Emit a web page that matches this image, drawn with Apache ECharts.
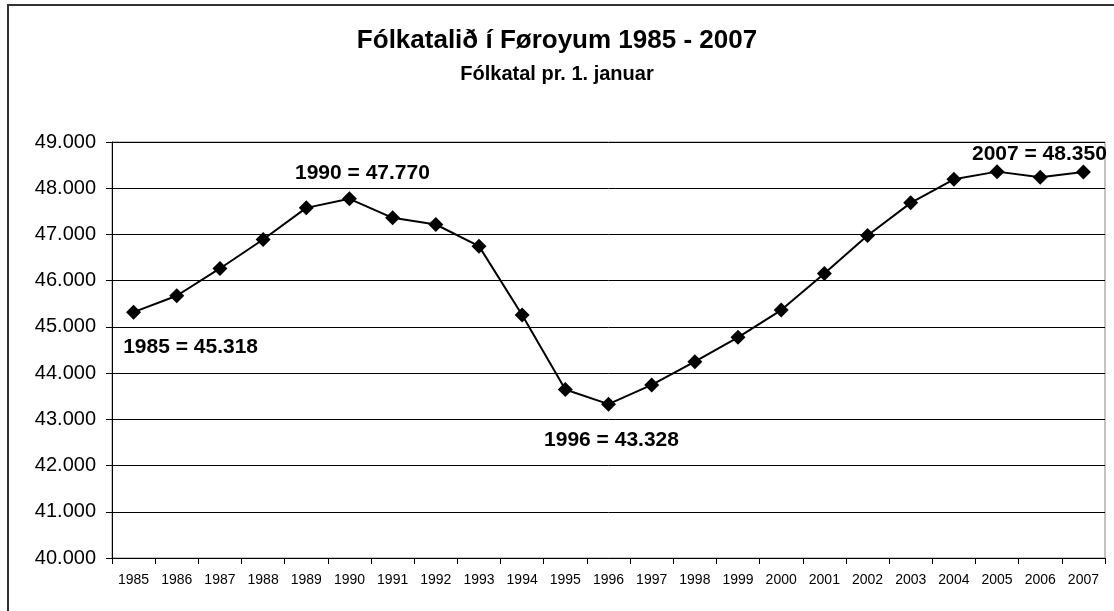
<!DOCTYPE html>
<html>
<head>
<meta charset="utf-8">
<title>Fólkatalið í Føroyum 1985 - 2007</title>
<script src="https://cdn.jsdelivr.net/npm/echarts@6/dist/echarts.min.js"></script>
<style>
  html, body { margin: 0; padding: 0; background: #fff; }
  #chart { width: 1114px; height: 611px; }
</style>
</head>
<body>
<div id="chart"></div>
<script>
// fólkatal pr. 1. januar
const years = ['1985', '1986', '1987', '1988', '1989', '1990', '1991', '1992',
  '1993', '1994', '1995', '1996', '1997', '1998', '1999', '2000', '2001',
  '2002', '2003', '2004', '2005', '2006', '2007']
const population = [45318, 45674, 46264, 46891, 47575, 47770, 47359, 47215,
  46747, 45256, 43644, 43328, 43744, 44248, 44774, 45364, 46156,
  46977, 47683, 48194, 48359, 48237, 48350]
const labelledYears = ['1985', '1990', '1996', '2007']

// where each annotation sits relative to its point
const labelOffsets = {
  '1985': [57, 35],
  '1990': [13, -26],
  '1996': [3, 36],
  '2007': [-44, -18]
}

const fmt = v => String(v).replace(/\B(?=(\d{3})+(?!\d))/g, '.')
const FONT = '"Liberation Sans", Arial, sans-serif'

const chart = echarts.init(document.getElementById('chart'))

chart.setOption({
  animation: false,
  textStyle: { fontFamily: FONT, color: '#000' },
  title: [
    {
      text: 'Fólkatalið í Føroyum 1985 - 2007',
      left: 'center',
      top: 23,
      textStyle: { fontFamily: FONT, fontSize: 26, fontWeight: 'bold', color: '#000' }
    },
    {
      text: 'Fólkatal pr. 1. januar',
      left: 'center',
      top: 59,
      textStyle: { fontFamily: FONT, fontSize: 20, fontWeight: 'bold', color: '#000' }
    }
  ],
  graphic: [
    {
      type: 'rect',
      shape: { x: 8, y: 5, width: 1200, height: 700 },
      style: { fill: null, stroke: '#333', lineWidth: 2 },
      silent: true
    }
  ],
  grid: {
    left: 112,
    right: 9,
    top: 142,
    bottom: 53,
    show: true,
    borderColor: '#888',
    borderWidth: 1,
    backgroundColor: 'transparent'
  },
  xAxis: {
    type: 'category',
    data: years,
    boundaryGap: true,
    axisLine: { lineStyle: { color: '#000', width: 1 } },
    axisTick: { show: true, length: 6, lineStyle: { color: '#000' } },
    axisLabel: { fontFamily: FONT, fontSize: 14, color: '#000', margin: 15, interval: 0 },
    splitLine: { show: false }
  },
  yAxis: {
    type: 'value',
    min: 40000,
    max: 49000,
    interval: 1000,
    axisLine: { show: true, lineStyle: { color: '#000', width: 1 } },
    axisTick: { show: true, length: 6, lineStyle: { color: '#000' } },
    axisLabel: { fontFamily: FONT, fontSize: 20, color: '#000', margin: 16, formatter: fmt },
    splitLine: { lineStyle: { color: '#000', width: 1 } }
  },
  series: [
    {
      type: 'line',
      data: population.map((v, i) => {
        const y = years[i]
        if (!labelledYears.includes(y)) return v
        return {
          value: v,
          label: {
            show: true,
            position: 'inside',
            offset: labelOffsets[y],
            formatter: p => p.name + ' = ' + fmt(p.value),
            fontFamily: FONT,
            fontSize: 21,
            fontWeight: 'bold',
            color: '#000'
          }
        }
      }),
      symbol: 'diamond',
      symbolSize: 15,
      itemStyle: { color: '#000' },
      lineStyle: { color: '#000', width: 2 },
      label: { show: false }
    }
  ]
})
</script>
</body>
</html>
